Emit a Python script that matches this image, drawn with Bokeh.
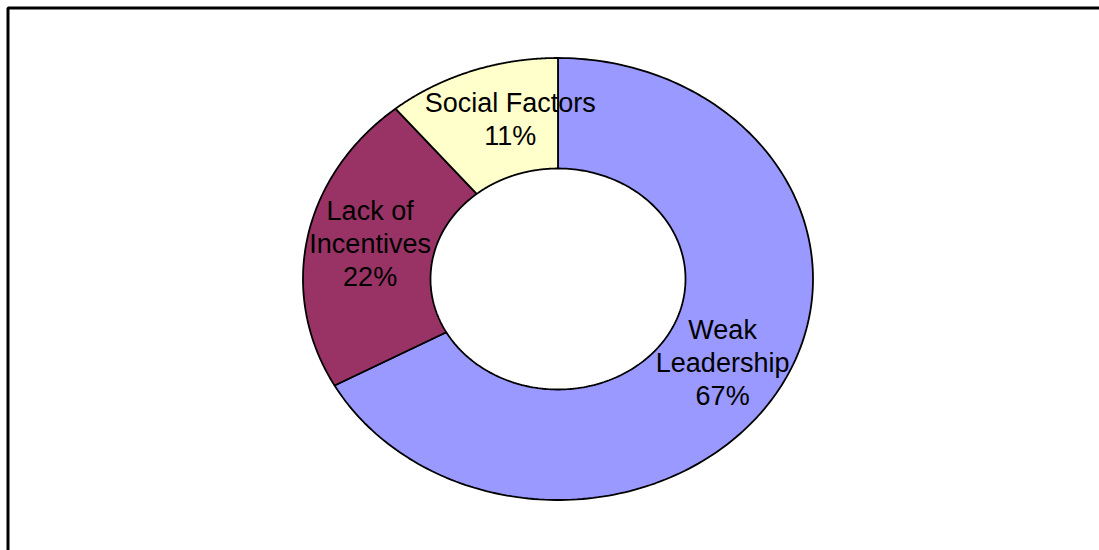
import numpy as np
from bokeh.plotting import figure
from bokeh.models import Range1d, BoxAnnotation, ColumnDataSource
from bokeh.core.properties import value
from bokeh.embed import file_html
from bokeh.resources import INLINE

# ---- data ----
categories = ["Weak Leadership", "Lack of Incentives", "Social Factors"]
label_text = ["Weak\nLeadership", "Lack of\nIncentives", "Social Factors"]
percent = [67, 22, 11]
colors = ["#9999FF", "#993366", "#FFFFCC"]

# ---- layout ----
W, H = 1099, 550
CX, CY = 557.5, 278.5      # pixel centre of the donut
RX, RY = 255.0, 221.0      # pixel radii (chart is stretched horizontally)
INNER = 0.5
LABEL_R = 0.75

x_range = Range1d((0 - CX) / RX, (W - CX) / RX)
y_range = Range1d((CY - H) / RY, (CY - 0) / RY)

p = figure(width=W, height=H, x_range=x_range, y_range=y_range,
           output_backend="svg", toolbar_location=None, min_border=0,
           x_axis_location=None, y_axis_location=None,
           background_fill_color="white", border_fill_color="white")
p.grid.visible = False
p.outline_line_color = None

total = float(sum(percent))
fr = np.array(percent) / total
starts = np.concatenate([[0], np.cumsum(fr)[:-1]])
ends = np.cumsum(fr)

xs, ys, lx, ly, texts = [], [], [], [], []
for s, e, lab, pc in zip(starts, ends, label_text, percent):
    t = np.radians(90 - 360 * np.linspace(s, e, 200))
    ox, oy = np.cos(t), np.sin(t)
    ix, iy = INNER * np.cos(t[::-1]), INNER * np.sin(t[::-1])
    xs.append(np.concatenate([ox, ix]).tolist())
    ys.append(np.concatenate([oy, iy]).tolist())
    m = np.radians(90 - 360 * (s + e) / 2)
    lx.append(LABEL_R * np.cos(m))
    ly.append(LABEL_R * np.sin(m))
    texts.append(f"{lab}\n{pc}%")

src = ColumnDataSource(dict(xs=xs, ys=ys, color=colors, name=categories))
p.patches("xs", "ys", source=src, fill_color="color", line_color="black",
          line_width=1.8)

lsrc = ColumnDataSource(dict(x=lx, y=ly, text=texts, xo=[0, 0, 17], yo=[0, -4, -4]))
p.text("x", "y", text="text", source=lsrc, x_offset="xo", y_offset="yo",
       text_align="center", text_baseline="middle",
       text_font=value("Liberation Sans"), text_font_size="27px",
       text_line_height=1.1, text_color="black")

# chart-area border (only top and left edges fall inside the window)
p.add_layout(BoxAnnotation(left=(7.5 - CX) / RX, top=(CY - 7.5) / RY,
                           right=(W + 100 - CX) / RX, bottom=(CY - H - 100) / RY,
                           fill_alpha=0, line_color="black", line_width=3,
                           line_alpha=1))

open("out.html", "w").write(file_html(p, INLINE))
